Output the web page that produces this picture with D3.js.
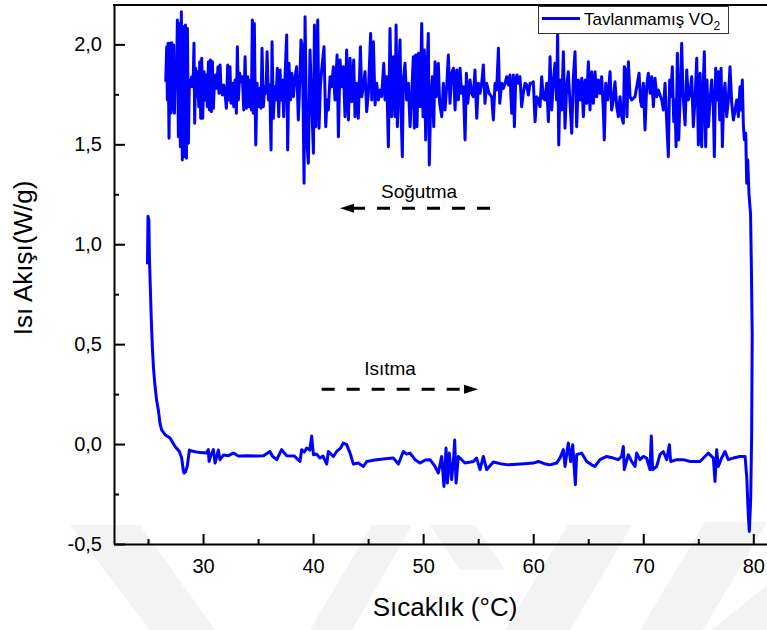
<!DOCTYPE html>
<html>
<head>
<meta charset="utf-8">
<script src="https://cdn.jsdelivr.net/npm/d3@7"></script>
<style>
  html, body { margin: 0; padding: 0; background: #fff; }
  svg { display: block; font-family: "Liberation Sans", Arial, sans-serif; }
</style>
</head>
<body>
<div id="chart"></div>
<script>
// Isıtma (heating) run: [sıcaklık °C, ısı akışı W/g]
const heating = [
  [24.95, 0.9], [25.0, 1.14], [25.08, 1.12], [25.13, 0.93], [25.2, 0.8], [25.3, 0.62], [25.4, 0.48], [25.5, 0.38],
  [25.62, 0.3], [25.78, 0.22], [25.94, 0.17], [26.1, 0.1], [26.25, 0.07], [26.55, 0.047], [27.0, 0.03], [27.46, -0.012],
  [27.85, -0.037], [28.06, -0.07], [28.2, -0.13], [28.27, -0.145], [28.4, -0.14], [28.57, -0.11], [28.76, -0.03],
  [28.97, -0.035], [29.4, -0.04], [29.73, -0.042], [30.3, -0.045], [30.48, -0.028], [30.55, -0.087], [30.75, -0.05],
  [30.94, -0.028], [31.09, -0.095], [31.25, -0.06], [31.39, -0.03], [31.54, -0.078], [31.85, -0.055], [32.3, -0.058],
  [32.76, -0.045], [33.2, -0.06], [34.0, -0.058], [34.8, -0.06], [35.5, -0.058], [36.08, -0.037], [36.3, -0.06],
  [36.69, -0.078], [36.9, -0.055], [37.14, -0.028], [37.6, -0.058], [38.3, -0.06], [38.81, -0.087], [38.96, -0.028],
  [39.2, -0.04], [39.42, -0.02], [39.7, -0.03], [39.87, 0.04], [40.03, -0.053], [40.3, -0.05], [40.63, -0.07],
  [40.9, -0.06], [41.24, -0.1], [41.39, -0.037], [41.84, -0.062], [42.14, -0.037], [42.5, -0.02], [42.75, 0.005],
  [43.05, -0.003], [43.36, -0.045], [43.66, -0.1], [44.1, -0.095], [44.57, -0.112], [44.87, -0.087], [45.6, -0.08],
  [46.38, -0.075], [47.29, -0.07], [47.75, -0.1], [48.2, -0.037], [48.5, -0.05], [48.81, -0.045], [49.3, -0.08],
  [49.72, -0.095], [50.2, -0.08], [50.63, -0.078], [51.08, -0.112], [51.38, -0.145], [51.68, -0.062], [51.89, -0.212],
  [52.08, -0.02], [52.2, -0.195], [52.38, -0.045], [52.59, -0.178], [52.74, -0.095], [52.87, 0.02], [52.99, -0.195],
  [53.2, -0.062], [53.8, -0.095], [54.56, -0.087], [54.86, -0.07], [55.17, -0.128], [55.47, -0.062], [55.77, -0.128],
  [56.38, -0.09], [57.0, -0.098], [57.74, -0.104], [58.9, -0.1], [60.01, -0.095], [60.47, -0.087], [61.0, -0.098],
  [61.53, -0.104], [62.13, -0.095], [62.43, -0.07], [62.74, -0.028], [62.89, -0.112], [63.19, 0.005], [63.4, -0.087],
  [63.59, -0.003], [63.74, -0.128], [63.83, -0.203], [63.95, -0.053], [64.4, -0.045], [64.86, -0.087], [65.31, -0.104],
  [65.61, -0.112], [66.07, -0.078], [66.67, -0.062], [67.28, -0.07], [67.73, -0.078], [68.03, -0.062], [68.19, -0.012],
  [68.28, -0.128], [68.64, -0.053], [68.95, -0.087], [69.25, -0.112], [69.4, -0.045], [69.7, -0.078], [70.01, -0.062],
  [70.31, -0.07], [70.61, -0.128], [70.73, 0.04], [70.85, -0.128], [71.22, -0.112], [71.52, -0.053], [71.82, -0.037],
  [72.13, -0.078], [72.37, -0.003], [72.49, -0.087], [73.04, -0.078], [73.64, -0.078], [74.25, -0.087], [75.15, -0.087],
  [75.61, -0.062], [75.91, -0.045], [76.37, -0.07], [76.52, -0.187], [76.67, -0.028], [76.82, -0.112], [77.12, -0.07],
  [77.43, -0.037], [77.73, -0.078], [78.18, -0.07], [78.79, -0.062], [79.25, -0.062], [79.4, -0.162], [79.55, -0.362],
  [79.64, -0.437], [79.76, -0.28], [79.85, 0.05]
];

// Soğutma (cooling) run, listed by increasing temperature
const cooling = [
  [26.61, 1.813], [26.70, 1.988], [26.76, 1.722], [26.82, 2.005], [26.91, 1.53], [27.0, 2.005], [27.09, 1.655],
  [27.15, 2.008], [27.24, 1.672], [27.33, 1.997], [27.40, 1.655], [27.49, 1.888], [27.58, 1.788], [27.67, 2.122],
  [27.76, 1.538], [27.85, 2.105], [27.94, 1.488], [28.03, 2.163], [28.12, 1.422], [28.21, 2.088], [28.30, 1.438],
  [28.40, 2.097], [28.49, 1.43], [28.58, 2.08], [28.67, 1.505], [28.76, 1.822], [28.88, 1.788], [28.97, 1.838],
  [29.09, 1.788], [29.18, 2.005], [29.24, 1.605], [29.33, 1.88], [29.43, 1.738], [29.52, 1.863], [29.61, 1.688],
  [29.70, 1.913], [29.79, 1.63], [29.88, 1.93], [29.97, 1.63], [30.09, 1.863], [30.18, 1.722], [30.30, 1.847],
  [30.39, 1.688], [30.49, 1.913], [30.58, 1.672], [30.67, 1.922], [30.76, 1.663], [30.85, 1.913], [30.94, 1.68],
  [31.03, 1.805], [31.15, 1.847], [31.24, 1.78], [31.36, 1.888], [31.45, 1.755], [31.55, 1.897], [31.64, 1.772],
  [31.76, 1.747], [31.88, 1.797], [32.0, 1.755], [32.12, 1.68], [32.24, 1.897], [32.33, 1.722], [32.45, 1.888],
  [32.54, 1.705], [32.67, 1.805], [32.79, 1.688], [32.91, 1.822], [33.03, 1.655], [33.12, 1.988], [33.21, 1.722],
  [33.33, 1.855], [33.45, 1.813], [33.57, 1.838], [33.70, 1.672], [33.82, 1.938], [33.94, 1.68], [34.06, 1.838],
  [34.18, 1.688], [34.30, 1.822], [34.39, 1.672], [34.48, 2.122], [34.57, 1.655], [34.66, 2.105], [34.79, 1.497],
  [34.91, 1.805], [35.03, 1.688], [35.15, 1.78], [35.27, 1.68], [35.36, 1.98], [35.48, 1.688], [35.60, 1.788],
  [35.72, 1.755], [35.82, 1.963], [35.94, 1.722], [36.06, 1.797], [36.18, 1.472], [36.27, 2.013], [36.39, 1.63],
  [36.51, 1.788], [36.63, 1.722], [36.75, 1.88], [36.88, 1.638], [37.0, 1.872], [37.09, 1.722], [37.21, 1.822],
  [37.33, 1.638], [37.45, 1.838], [37.60, 2.047], [37.69, 1.472], [37.81, 1.905], [37.94, 1.722], [38.06, 1.855],
  [38.21, 1.738], [38.36, 1.838], [38.51, 1.888], [38.66, 1.622], [38.81, 1.838], [38.90, 2.022], [39.03, 1.988],
  [39.18, 1.305], [39.27, 2.138], [39.42, 1.522], [39.57, 1.405], [39.72, 1.972], [39.87, 1.722], [40.03, 1.455],
  [40.12, 2.097], [40.24, 1.588], [40.42, 2.122], [40.54, 1.58], [40.66, 1.788], [40.78, 1.872], [40.99, 1.988],
  [41.15, 1.588], [41.27, 1.722], [41.39, 1.672], [41.54, 1.838], [41.69, 1.788], [41.84, 1.888], [41.99, 1.722],
  [42.18, 1.947], [42.30, 1.538], [42.45, 1.922], [42.60, 1.788], [42.75, 1.888], [42.90, 1.638], [43.05, 1.972],
  [43.21, 1.622], [43.36, 1.93], [43.51, 1.713], [43.69, 1.922], [43.81, 1.638], [43.96, 1.805], [44.11, 1.63],
  [44.30, 1.988], [44.42, 1.738], [44.60, 1.805], [44.72, 1.863], [44.87, 1.663], [45.02, 1.755], [45.23, 2.055],
  [45.33, 1.722], [45.48, 2.013], [45.63, 1.697], [45.78, 1.805], [45.93, 1.722], [46.08, 1.772], [46.23, 1.738],
  [46.42, 1.905], [46.54, 1.722], [46.69, 1.838], [46.84, 1.488], [46.99, 2.08], [47.14, 1.638], [47.29, 1.938],
  [47.45, 1.638], [47.54, 2.097], [47.66, 1.588], [47.81, 1.888], [47.90, 2.022], [47.99, 1.672], [48.11, 1.438],
  [48.20, 1.822], [48.35, 1.905], [48.50, 1.722], [48.66, 1.805], [48.81, 1.588], [48.96, 1.755], [49.11, 1.938],
  [49.20, 1.58], [49.32, 1.947], [49.44, 1.588], [49.57, 1.955], [49.72, 1.688], [49.87, 2.105], [49.99, 1.638],
  [50.11, 1.972], [50.23, 1.522], [50.35, 1.855], [50.47, 2.055], [50.56, 1.397], [50.69, 1.722], [50.84, 1.838],
  [50.96, 1.588], [51.08, 1.913], [51.20, 1.738], [51.38, 1.905], [51.50, 1.705], [51.69, 1.638], [51.84, 1.805],
  [51.99, 1.672], [52.14, 1.788], [52.29, 1.947], [52.44, 1.705], [52.59, 1.855], [52.75, 1.88], [52.90, 1.672],
  [53.05, 1.872], [53.20, 1.722], [53.35, 1.88], [53.50, 1.755], [53.65, 1.788], [53.81, 1.522], [53.93, 1.855],
  [54.05, 1.705], [54.26, 1.822], [54.41, 1.755], [54.56, 1.738], [54.71, 1.872], [54.87, 1.63], [55.02, 1.805],
  [55.17, 1.755], [55.32, 1.805], [55.47, 1.897], [55.62, 1.705], [55.77, 1.805], [55.99, 1.755], [56.23, 1.738],
  [56.38, 1.622], [56.53, 1.805], [56.68, 1.772], [56.84, 1.98], [56.96, 1.705], [57.14, 1.805], [57.29, 1.78],
  [57.44, 1.805], [57.59, 1.838], [57.74, 1.797], [57.89, 1.847], [58.05, 1.655], [58.20, 1.847], [58.29, 1.588],
  [58.41, 1.822], [58.53, 1.847], [58.65, 1.805], [58.80, 1.838], [58.95, 1.688], [59.10, 1.755], [59.26, 1.805],
  [59.41, 1.797], [59.56, 1.747], [59.71, 1.805], [59.86, 1.805], [60.01, 1.813], [60.17, 1.613], [60.32, 1.738],
  [60.47, 1.722], [60.62, 1.688], [60.77, 1.838], [60.92, 1.73], [61.07, 1.722], [61.23, 1.805], [61.38, 1.613],
  [61.53, 1.938], [61.68, 1.672], [61.83, 1.813], [61.98, 1.905], [62.13, 1.722], [62.22, 2.055], [62.32, 1.497],
  [62.44, 1.822], [62.59, 1.672], [62.74, 1.963], [62.89, 1.58], [63.04, 1.788], [63.19, 1.863], [63.35, 1.705],
  [63.50, 1.555], [63.65, 1.838], [63.80, 1.963], [63.95, 1.588], [64.10, 1.822], [64.25, 1.722], [64.41, 1.83],
  [64.56, 1.638], [64.71, 1.822], [64.86, 1.705], [65.01, 1.913], [65.16, 1.672], [65.31, 1.863], [65.47, 1.705],
  [65.62, 1.863], [65.77, 1.738], [65.92, 1.822], [66.07, 1.755], [66.22, 1.838], [66.37, 1.672], [66.46, 1.522],
  [66.59, 1.805], [66.77, 1.722], [66.98, 1.863], [67.13, 1.672], [67.28, 1.722], [67.43, 1.813], [67.59, 1.688],
  [67.74, 1.638], [67.89, 1.738], [68.04, 1.638], [68.19, 1.605], [68.28, 1.888], [68.40, 1.872], [68.52, 1.638],
  [68.65, 1.913], [68.80, 1.738], [68.95, 1.722], [69.25, 1.738], [69.62, 1.855], [69.74, 1.722], [69.86, 1.688],
  [70.01, 1.805], [70.16, 1.572], [70.31, 1.788], [70.46, 1.855], [70.62, 1.755], [70.77, 1.838], [70.92, 1.688],
  [71.07, 1.83], [71.22, 1.738], [71.37, 1.772], [71.52, 1.747], [71.68, 1.722], [71.83, 1.672], [71.98, 1.805],
  [72.13, 1.613], [72.28, 1.438], [72.40, 1.822], [72.52, 1.738], [72.64, 1.888], [72.77, 1.613], [72.89, 1.722],
  [72.98, 1.488], [73.10, 1.955], [73.22, 1.522], [73.34, 1.722], [73.49, 2.005], [73.61, 1.755], [73.80, 1.597],
  [73.95, 1.872], [74.10, 1.722], [74.25, 1.755], [74.40, 1.838], [74.55, 1.588], [74.70, 1.722], [74.86, 1.93],
  [75.01, 1.497], [75.16, 1.855], [75.31, 1.488], [75.46, 1.822], [75.55, 1.963], [75.67, 1.488], [75.79, 1.822],
  [75.92, 1.588], [76.07, 1.722], [76.22, 1.822], [76.37, 1.688], [76.46, 1.438], [76.58, 1.88], [76.70, 1.722],
  [76.82, 1.863], [76.95, 1.622], [77.07, 1.88], [77.19, 1.488], [77.31, 1.738], [77.43, 1.805], [77.58, 1.638],
  [77.73, 1.722], [77.88, 1.888], [78.04, 1.705], [78.19, 1.622], [78.34, 1.672], [78.49, 1.722], [78.64, 1.638],
  [78.79, 1.788], [78.88, 1.672], [79.00, 1.822], [79.10, 1.588], [79.19, 1.522], [79.31, 1.555], [79.40, 1.305],
  [79.49, 1.422], [79.61, 1.25], [79.75, 1.15], [79.82, 0.9], [79.9, 0.55]
];

const xTicks = [30, 40, 50, 60, 70, 80];
const xMinor = [25, 35, 45, 55, 65, 75];
const yTicks = [-0.5, 0, 0.5, 1, 1.5, 2];
const yMinor = [-0.25, 0.25, 0.75, 1.25, 1.75];
const seriesName = 'Tavlanmamış VO';

const width = 767;
const height = 630;

const svg = d3.select('#chart')
    .append('svg')
    .attr('width', width)
    .attr('height', height);

// faint diagonal watermark bands at the bottom
const watermark = [
    [[70, 525], [140, 525], [215, 630], [150, 630]],
    [[310, 630], [352, 630], [412, 525], [372, 525]],
    [[430, 525], [475, 525], [505, 570], [460, 570]],
    [[505, 630], [570, 630], [632, 525], [568, 525]],
    [[640, 630], [703, 630], [767, 522], [705, 522]],
    [[712, 630], [767, 630], [767, 585]]
];
svg.append('g')
    .selectAll('path')
    .data(watermark)
    .enter()
    .append('path')
    .attr('d', d => 'M' + d.join('L') + 'Z')
    .style('fill', '#f3f3f3');

const x = d3.scaleLinear().domain([21.91, 81.88]).range([114, 774]);
const y = d3.scaleLinear().domain([-0.5, 2.197]).range([544, 5]);

const fmt = d3.formatLocale({ decimal: ',', thousands: '.', grouping: [3], currency: ['', ''], minus: '-' }).format('.1f');

function styleAxis(g) {
    g.attr('font-size', 20).attr('font-family', null);
    g.select('.domain').attr('stroke', '#000').attr('stroke-width', 2);
    g.selectAll('.tick line').attr('stroke', '#000').attr('stroke-width', 2);
    g.selectAll('.tick text').attr('fill', '#000');
}

// x ekseni
svg.append('g')
    .attr('transform', `translate(0,${y(-0.5)})`)
    .call(d3.axisBottom(x).tickValues(xTicks).tickSizeInner(-10).tickSizeOuter(0).tickPadding(15).tickFormat(d3.format('d')))
    .call(styleAxis);

svg.append('g')
    .attr('transform', `translate(0,${y(-0.5)})`)
    .call(d3.axisBottom(x).tickValues(xMinor).tickSizeInner(-5).tickSizeOuter(0).tickFormat(''))
    .call(g => g.select('.domain').remove())
    .call(g => g.selectAll('.tick line').attr('stroke', '#000').attr('stroke-width', 2));

// y ekseni
svg.append('g')
    .attr('transform', `translate(${x(21.91)},0)`)
    .call(d3.axisLeft(y).tickValues(yTicks).tickSizeInner(-11).tickSizeOuter(0).tickPadding(12).tickFormat(fmt))
    .call(styleAxis);

svg.append('g')
    .attr('transform', `translate(${x(21.91)},0)`)
    .call(d3.axisLeft(y).tickValues(yMinor).tickSizeInner(-5).tickSizeOuter(0).tickFormat(''))
    .call(g => g.select('.domain').remove())
    .call(g => g.selectAll('.tick line').attr('stroke', '#000').attr('stroke-width', 2));

// top frame line
svg.append('line')
    .attr('x1', 113).attr('x2', width)
    .attr('y1', y(2.197)).attr('y2', y(2.197))
    .style('stroke', '#000')
    .style('stroke-width', 2);

// the DSC loop: heating then cooling back
const line = d3.line().x(d => x(d[0])).y(d => y(d[1]));
svg.append('path')
    .datum(heating.concat(cooling.slice().reverse()))
    .attr('d', line)
    .style('fill', 'none')
    .style('stroke', '#0000ff')
    .style('stroke-width', 3)
    .style('stroke-linejoin', 'round');

// axis titles
svg.append('text')
    .attr('x', 445)
    .attr('y', 616)
    .attr('text-anchor', 'middle')
    .style('font-size', '26px')
    .text('Sıcaklık (°C)');

svg.append('text')
    .attr('transform', 'translate(32,258) rotate(-90)')
    .attr('text-anchor', 'middle')
    .style('font-size', '26px')
    .text('Isı Akışı(W/g)');

// dashed direction arrows
function arrow(x1, x2, yv, label, labelX, labelY) {
    const px1 = x(x1), px2 = x(x2), py = y(yv);
    const dir = px2 > px1 ? 1 : -1;
    const head = 14;
    svg.append('line')
        .attr('x1', px1).attr('x2', px2 - dir * head)
        .attr('y1', py).attr('y2', py)
        .style('stroke', '#000')
        .style('stroke-width', 3)
        .style('stroke-dasharray', '13,12');
    svg.append('path')
        .attr('d', `M${px2},${py}L${px2 - dir * head},${py - 4.5}L${px2 - dir * head},${py + 4.5}Z`)
        .style('fill', '#000');
    svg.append('text')
        .attr('x', x(labelX))
        .attr('y', y(labelY))
        .attr('text-anchor', 'middle')
        .style('font-size', '19px')
        .text(label);
}

arrow(56.08, 42.45, 1.18, 'Soğutma', 49.63, 1.23);
arrow(40.78, 54.99, 0.274, 'Isıtma', 46.99, 0.345);

// legend
const legend = svg.append('g');
legend.append('rect')
    .attr('x', 538.5).attr('y', 6.5)
    .attr('width', 190).attr('height', 27)
    .style('fill', '#fff')
    .style('stroke', '#333')
    .style('stroke-width', 1);
legend.append('line')
    .attr('x1', 542).attr('x2', 580)
    .attr('y1', 18.5).attr('y2', 18.5)
    .style('stroke', '#0000ff')
    .style('stroke-width', 3);
const lt = legend.append('text')
    .attr('x', 584)
    .attr('y', 24.5)
    .style('font-size', '17px')
    .text(seriesName);
lt.append('tspan')
    .attr('dy', 5.5)
    .style('font-size', '12px')
    .text('2');
</script>
</body>
</html>
